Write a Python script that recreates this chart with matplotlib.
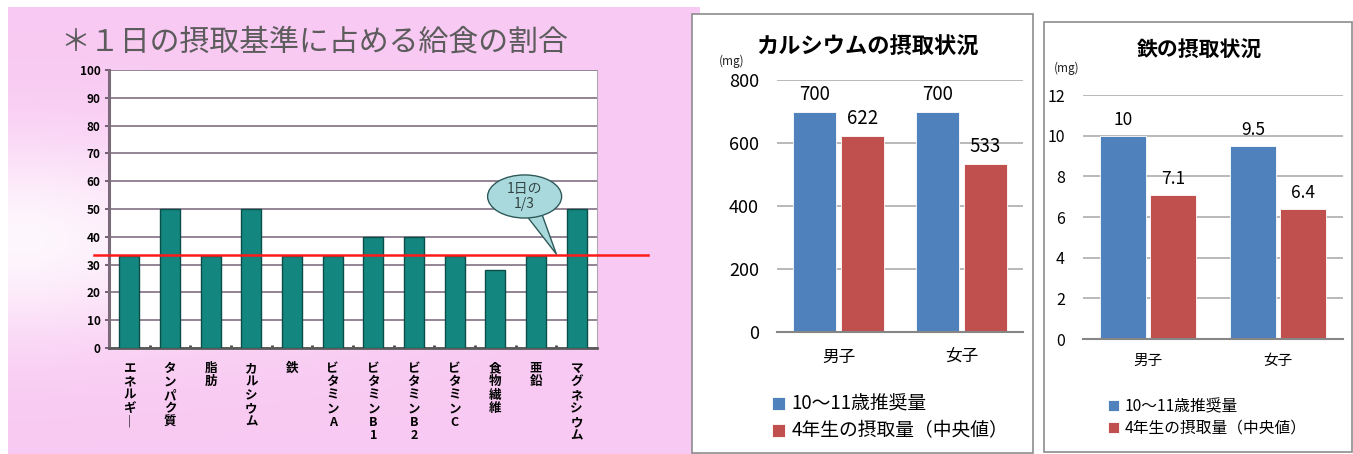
import numpy as np
import matplotlib.pyplot as plt
from matplotlib.patches import Rectangle, Ellipse

plt.rcParams['font.family'] = ['Noto Sans CJK JP', 'DejaVu Sans']

# ---- data ----
nutrients = ['エネルギー', 'タンパク質', '脂肪', 'カルシウム', '鉄', 'ビタミンA',
             'ビタミンB1', 'ビタミンB2', 'ビタミンC', '食物繊維', '亜鉛', 'マグネシウム']
lunch_share = [33, 50, 33, 50, 33, 33, 40, 40, 33, 28, 33, 50]
one_third = 100 / 3

groups = ['男子', '女子']
ca_recommended = [700, 700]
ca_intake = [622, 533]
fe_recommended = [10, 9.5]
fe_intake = [7.1, 6.4]
series_names = ['10～11歳推奨量', '4年生の摂取量（中央値）']

BLUE = '#4f81bd'
RED = '#c0504d'

W, H = 1353, 454
fig = plt.figure(figsize=(W / 100, H / 100), dpi=100)


def fx(x):
    return x / W


def fy(y):
    return 1 - y / H


def box(l, t, r, b):
    return [fx(l), fy(b), fx(r) - fx(l), fy(t) - fy(b)]


# ---- pink gradient background of the left picture ----
bg = fig.add_axes(box(8, 7, 700, 454), zorder=-5)
yy, xx = np.mgrid[0:1:200j, 0:1:300j]
white = np.exp(-((yy - 0.52) / 0.22) ** 2) * np.clip(1.05 - xx * 1.3, 0, 1) * 0.85
pink = np.array([0.975, 0.79, 0.95])
img = pink[None, None, :] * (1 - white[..., None]) + white[..., None]
bg.imshow(img, aspect='auto', extent=[0, 1, 0, 1])
bg.axis('off')

fig.text(fx(60), fy(42), '＊１日の摂取基準に占める給食の割合', fontsize=21.5,
         color='#5c5c5c', va='center', ha='left')

ax1 = fig.add_axes(box(109, 70, 597, 348))
ax1.set_facecolor('white')
x1 = np.arange(len(nutrients))
ax1.bar(x1, lunch_share, width=0.49, color='#13877f', edgecolor='#0b4d48',
        linewidth=1, zorder=3)
ax1.set_xlim(-0.5, len(nutrients) - 0.5)
ax1.set_ylim(0, 100)
ax1.set_yticks(range(0, 101, 10))
ax1.grid(axis='y', color='#8b7b8b', linewidth=1.3, zorder=0)
for lbl in ax1.get_yticklabels():
    lbl.set_fontweight('bold')
ax1.tick_params(axis='y', labelsize=8.5, length=3, width=1.2, color='#5a4a5a', pad=3)
vertical = ['\n'.join(n.replace('ー', '｜')) for n in nutrients]
ax1.set_xticks(x1, vertical)
ax1.tick_params(axis='x', length=0, pad=10)
for lbl in ax1.get_xticklabels():
    lbl.set_fontsize(9)
    lbl.set_fontweight('bold')
    lbl.set_linespacing(1.05)
    lbl.set_va('top')
ax1.set_xticks(x1[:-1] + 0.5, minor=True)
ax1.tick_params(axis='x', which='minor', length=2, width=2, color='#444444',
                direction='in')
ax1.spines['left'].set_color('#7a6a7a')
ax1.spines['left'].set_linewidth(2.2)
ax1.spines['bottom'].set_color('#5a5a5a')
ax1.spines['bottom'].set_linewidth(2)
ax1.spines['right'].set_color('#b0a8b0')
ax1.spines['top'].set_visible(False)
ax1.axhline(one_third, xmin=-0.03, xmax=1.105, color='#ff1a1a', linewidth=1.8,
            clip_on=False, zorder=5)

# speech balloon "1日の 1/3"
balloon_center = (9.72, 54.5)
ax1.annotate('', xy=(10.5, 33.8), xytext=balloon_center, zorder=6,
             arrowprops=dict(arrowstyle='wedge,tail_width=1.5,shrink_factor=0.5',
                             fc='#a9d9dc', ec='#2f5a5a', lw=1,
                             shrinkA=0, shrinkB=0))
ax1.add_patch(Ellipse(balloon_center, 1.82, 15.5, fc='#a9d9dc', ec='#2f5a5a',
                      lw=1, zorder=7, clip_on=False))
ax1.text(balloon_center[0], balloon_center[1], '1日の\n1/3', ha='center',
         va='center', fontsize=10, color='#334444', zorder=8, linespacing=1.1)


# ---- the two Excel style panels ----
def panel(frame, axbox, rec, intake, ymax, step, title, title_xy, title_size,
          unit_xy, fs, vfs, lfs, leg_xy, cat_pad):
    l, t, r, b = frame
    fig.add_artist(Rectangle((fx(l), fy(b)), fx(r) - fx(l), fy(t) - fy(b),
                             transform=fig.transFigure, facecolor='white',
                             edgecolor='#8c8c8c', linewidth=1.2, zorder=-1))
    ax = fig.add_axes(box(*axbox))
    xs = np.arange(len(groups))
    b1 = ax.bar(xs - 0.193, rec, width=0.35, color=BLUE, edgecolor='white',
                linewidth=0.6, label=series_names[0], zorder=3)
    b2 = ax.bar(xs + 0.193, intake, width=0.35, color=RED, edgecolor='white',
                linewidth=0.6, label=series_names[1], zorder=3)
    ax.bar_label(b1, labels=[f'{v:g}' for v in rec], padding=5, fontsize=vfs)
    ax.bar_label(b2, labels=[f'{v:g}' for v in intake], padding=5, fontsize=vfs)
    ax.set_xlim(-0.5, len(groups) - 0.5)
    ax.set_ylim(0, ymax)
    ax.set_yticks(np.arange(0, ymax + 1e-9, step))
    ax.set_yticklabels([f'{v:g}' for v in np.arange(0, ymax + 1e-9, step)])
    ax.set_xticks(xs, groups)
    ax.grid(axis='y', color='#a6a6a6', linewidth=1.1, zorder=0)
    for s in ['top', 'right', 'left']:
        ax.spines[s].set_visible(False)
    ax.spines['bottom'].set_color('#868686')
    ax.spines['bottom'].set_linewidth(1.5)
    ax.spines['bottom'].set_zorder(4)
    ax.tick_params(axis='y', length=0, labelsize=fs, pad=13)
    ax.tick_params(axis='x', length=0, labelsize=fs - 1, pad=cat_pad)
    fig.text(fx(title_xy[0]), fy(title_xy[1]), title, fontsize=title_size,
             fontweight='bold', ha='center', va='center')
    fig.text(fx(unit_xy[0]), fy(unit_xy[1]), '(mg)', fontsize=8.5,
             ha='center', va='center', color='#222222')
    fig.legend(handles=[b1, b2], loc='upper left',
               bbox_to_anchor=(fx(leg_xy[0]), fy(leg_xy[1])), frameon=False,
               fontsize=lfs, handlelength=0.7, handleheight=0.7,
               handletextpad=0.35, labelspacing=0.3, borderpad=0,
               borderaxespad=0)
    return ax


panel((692, 14, 1033, 453), (777, 80, 1023, 332), ca_recommended, ca_intake,
      800, 200, 'カルシウムの摂取状況', (867, 47), 16, (732, 61), 13, 13.5, 13.5,
      (772, 394), 12)
panel((1044, 22, 1352, 452), (1083, 95, 1343, 339), fe_recommended, fe_intake,
      12, 2, '鉄の摂取状況', (1199, 50), 15, (1067, 68), 11.5, 12.5, 11.3,
      (1108, 398), 11)

fig.savefig('out.png', dpi=100)
